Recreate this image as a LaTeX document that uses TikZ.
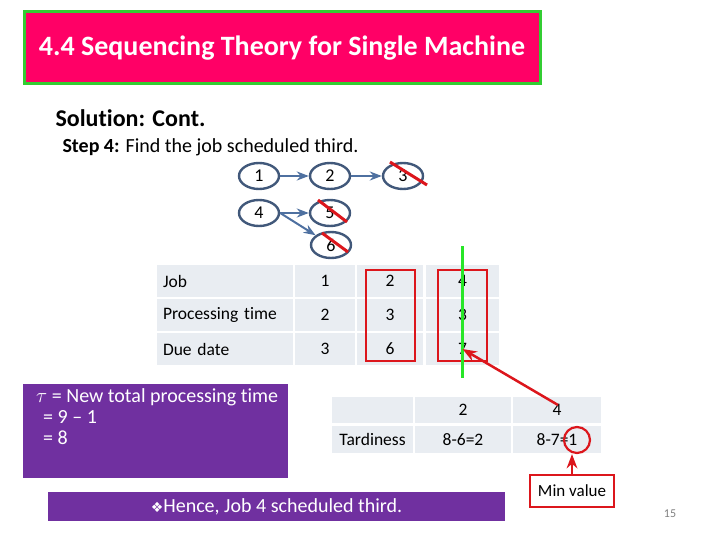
\documentclass[tikz,border=0pt]{standalone}
\usepackage{fontspec}
\setmainfont[Ligatures=NoCommon]{Carlito}
\newfontfamily\symfont{DejaVu Sans}
\usetikzlibrary{arrows.meta,shapes.geometric,calc}

\definecolor{titlepink}{RGB}{255,0,102}
\definecolor{titlegreen}{RGB}{50,205,50}
\definecolor{slidepurple}{RGB}{112,48,160}
\definecolor{cellgray}{RGB}{233,237,242}
\definecolor{jobline}{RGB}{65,88,122}
\definecolor{linkblue}{RGB}{78,112,160}
\definecolor{markred}{RGB}{220,22,28}
\definecolor{markgreen}{RGB}{40,230,40}

\begin{document}
\begin{tikzpicture}[
      x=1pt, y=-1pt, >=Stealth,
      titlebox/.style={fill=titlepink, draw=titlegreen, line width=3pt, text=white, font=\bfseries\fontsize{28}{32}\selectfont},
      job/.style={draw=jobline, line width=2.4pt, ellipse, minimum width=40pt, minimum height=26pt, inner sep=0pt, font=\fontsize{18}{20}\selectfont},
      link/.style={->, draw=linkblue, line width=2pt},
      crossout/.style={draw=markred, line width=3pt},
      cell/.style={fill=cellgray, minimum height=32pt, inner sep=0pt, font=\fontsize{17.5}{20}\selectfont},
      markbox/.style={draw=markred, line width=2.2pt},
      redarrow/.style={->, draw=markred, line width=2.5pt},
      purplebox/.style={fill=slidepurple, inner sep=0pt}]
    \useasboundingbox (0,0) rectangle (720,540);
    % heading
    \node[titlebox, minimum width=516pt, minimum height=72pt] (title) at (282,48) {4.4 Sequencing Theory for Single Machine};
    \node[anchor=west, font=\bfseries\fontsize{24}{28}\selectfont] (soln) at (52,118) {Solution: Cont.};
    \node[anchor=west, font=\fontsize{20}{24}\selectfont] (step) at (59,147) {\textbf{Step 4:} Find the job scheduled third.};
    % precedence graph
    \node[job] (j1) at (259,176) {1};
    \node[job] (j2) at (330,176) {2};
    \node[job] (j3) at (403,176) {3};
    \node[job] (j4) at (259,213) {4};
    \node[job] (j5) at (330,213) {5};
    \node[job] (j6) at (331,245) {6};
    \draw[link] (j1) -- (j2);
    \draw[link] (j2) -- (j3);
    \draw[link] (j4) -- (j5);
    \draw[link] (j4.east) -- (j6);
    \draw[crossout] ($(j3)+(-13,-14)$) -- ($(j3)+(24,9)$);
    \draw[crossout] ($(j5)+(-12,-13)$) -- ($(j5)+(17,9)$);
    \draw[crossout] ($(j6)+(-9,-12)$) -- ($(j6)+(17,7)$);
    % job data
    \node[cell, minimum width=136pt, text width=124pt, align=left] (t10) at (225,281) {Job};
    \node[cell, minimum width=60pt] (t11) at (325,281) {1};
    \node[cell, minimum width=66pt] (t12) at (390,281) {2};
    \node[cell, minimum width=73pt] (t13) at (462.5,281) {4};
    \node[cell, minimum width=136pt, text width=124pt, align=left] (t20) at (225,314.5) {Processing time};
    \node[cell, minimum width=60pt] (t21) at (325,314.5) {2};
    \node[cell, minimum width=66pt] (t22) at (390,314.5) {3};
    \node[cell, minimum width=73pt] (t23) at (462.5,314.5) {3};
    \node[cell, minimum width=136pt, text width=124pt, align=left] (t30) at (225,349) {Due date};
    \node[cell, minimum width=60pt] (t31) at (325,349) {3};
    \node[cell, minimum width=66pt] (t32) at (390,349) {6};
    \node[cell, minimum width=73pt] (t33) at (462.5,349) {7};
    \draw[markbox] (366,270) rectangle (415,361);
    \draw[markbox] (438,270) rectangle (487,361);
    % tau box
    \node[purplebox, minimum width=265pt, minimum height=94pt] (taubox) at (155.5,431) {};
    \node[anchor=north west, align=left, inner sep=0pt, text=white, font=\fontsize{20}{21}\selectfont] (tautext) at (36,388) {$\tau$ = New total processing time\\\hspace{7pt}= 9 -- 1\\\hspace{7pt}= 8};
    % tardiness
    \node[cell, minimum width=81pt, minimum height=26pt] (u10) at (372.5,410) {};
    \node[cell, minimum width=96pt, minimum height=26pt] (u11) at (463,410) {2};
    \node[cell, minimum width=88pt, minimum height=26pt] (u12) at (557,410) {4};
    \node[cell, minimum width=81pt, minimum height=27pt] (u20) at (372.5,439.5) {Tardiness};
    \node[cell, minimum width=96pt, minimum height=27pt] (u21) at (463,439.5) {8-6=2};
    \node[cell, minimum width=88pt, minimum height=27pt] (u22) at (557,439.5) {8-7=1};
    \draw[draw=markgreen, line width=3pt] (462,246) -- (462,378);
    \draw[redarrow] ($(u12)+(1,-5)$) -- (t33.center);
    \node[draw=markred, line width=2.2pt, circle, minimum size=26pt, inner sep=0pt] (ring) at (577,440) {};
    \node[draw=markred, line width=2.5pt, fill=white, minimum width=84pt, minimum height=32pt, font=\fontsize{17}{20}\selectfont] (minv) at (572,491) {Min value};
    \draw[redarrow] (minv.north) -- (minv.north |- ring.south);
    % conclusion
    \node[purplebox, minimum width=457pt, minimum height=29pt, text=white, font=\fontsize{20}{22}\selectfont] (hence) at (276.5,506.5) {{\symfont\fontsize{14}{16}\selectfont ❖}Hence, Job 4 scheduled third.};
    \node[text=gray, font=\fontsize{12}{14}\selectfont] (pnum) at (670,514) {15};
  \end{tikzpicture}
\end{document}
